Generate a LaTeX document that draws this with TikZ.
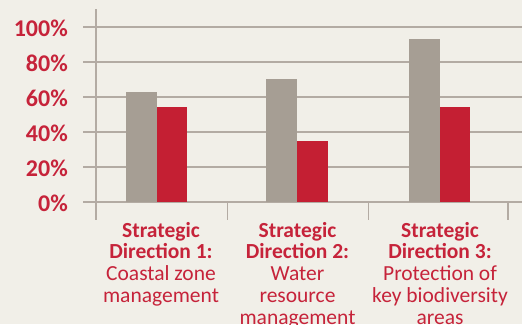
\documentclass[tikz,border=0pt]{standalone}
\usepackage{fontspec}
\setmainfont{Carlito}
\definecolor{chartbg}{HTML}{F1EFE8}
\definecolor{barred}{HTML}{C41F33}
\definecolor{bargray}{HTML}{A69E94}
\definecolor{gridgray}{HTML}{B3ABA3}
\definecolor{labelred}{HTML}{C6233A}

\begin{document}
\begin{tikzpicture}[x=1pt,y=1pt,
  gridline/.style={-,line width=1.3pt,gridgray},
  ylabel/.style={anchor=base east,inner sep=0,text=labelred,font=\fontsize{24}{24}\selectfont\bfseries},
  catlabel/.style={anchor=north,inner sep=0,align=center,text=labelred,font=\fontsize{21.5}{21.7}\selectfont}]
\fill[chartbg] (0,0) rectangle (522,324);
\useasboundingbox (0,0) rectangle (522,324);
\begin{scope}[yshift=122pt,y=1.75pt]
\draw[gridline] (83,0) -- (522,0);
\draw[gridline] (83,20) -- (522,20);
\draw[gridline] (83,40) -- (522,40);
\draw[gridline] (83,60) -- (522,60);
\draw[gridline] (83,80) -- (522,80);
\draw[gridline] (83,100) -- (522,100);
\fill[bargray] (126,0) rectangle (156.7,63);
\fill[barred] (156.7,0) rectangle (187,54);
\fill[bargray] (266,0) rectangle (297,70);
\fill[barred] (297,0) rectangle (328,35);
\fill[bargray] (409,0) rectangle (440,93);
\fill[barred] (440,0) rectangle (470,54);
\node[ylabel,yshift=-10pt] (p0) at (68,0) {0\%};
\node[ylabel,yshift=-10pt] (p20) at (68,20) {20\%};
\node[ylabel,yshift=-10pt] (p40) at (68,40) {40\%};
\node[ylabel,yshift=-10pt] (p60) at (68,60) {60\%};
\node[ylabel,yshift=-10pt] (p80) at (68,80) {80\%};
\node[ylabel,yshift=-10pt] (p100) at (68,100) {100\%};
\end{scope}
\draw[gridline] (96,104) -- (96,315);
\draw[gridline] (227.7,104) -- (227.7,122);
\draw[gridline] (368.7,104) -- (368.7,122);
\draw[gridline] (508,104) -- (508,122);
\node[catlabel] (sd1) at (161,102) {\textbf{Strategic}\\\textbf{Direction 1:}\\Coastal zone\\management};
\node[catlabel] (sd2) at (297.5,102) {\textbf{Strategic}\\\textbf{Direction 2:}\\Water\\resource\\management};
\node[catlabel] (sd3) at (440,102) {\textbf{Strategic}\\\textbf{Direction 3:}\\Protection of\\key biodiversity\\areas};
\end{tikzpicture}
\end{document}
